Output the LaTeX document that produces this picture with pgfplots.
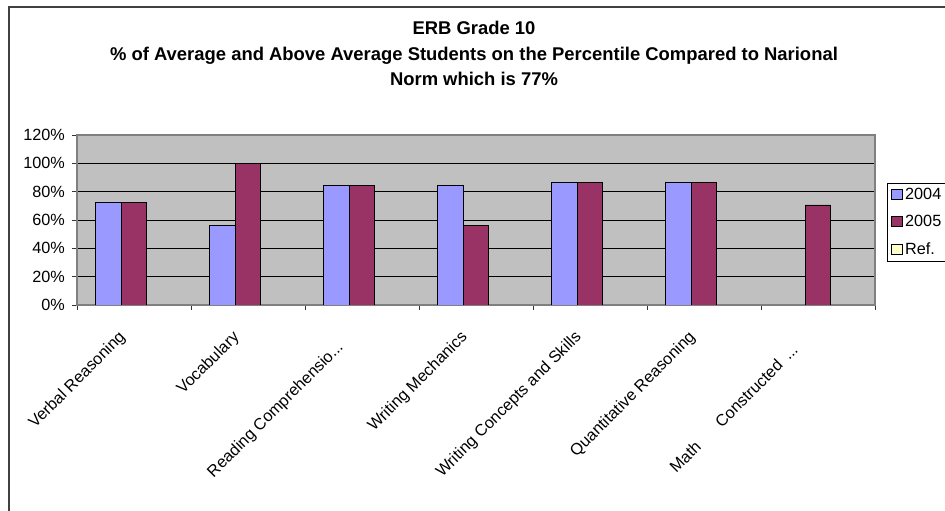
\documentclass[border=0pt]{standalone}
\usepackage{fontspec}
\setmainfont{Liberation Sans}
\usepackage{pgfplots}
\pgfplotsset{compat=1.18}
\definecolor{c2004}{HTML}{9999FF}
\definecolor{c2005}{HTML}{993366}
\definecolor{cref}{HTML}{FFFFCC}
\definecolor{plotbg}{HTML}{C0C0C0}
\definecolor{framegray}{HTML}{808080}
\newcommand{\dd}{{.}{.}{.}}
\begin{document}
\begin{tikzpicture}[x=1bp,y=1bp]
\useasboundingbox (-77,-206) rectangle (868,305);
\draw[line width=1.6bp, draw=black!75] (-68,-230) -- (-68,298) -- (900,298);
\begin{axis}[
  at={(0,0)}, anchor=south west,
  scale only axis, width=798bp, height=170bp,
  xmin=-0.5, xmax=6.5, ymin=0, ymax=120,
  ybar=0pt, bar width=25.6bp,
  axis background/.style={fill=plotbg},
  axis line style={draw=framegray, line width=1.2bp},
  ytick={0,20,...,120},
  yticklabels={0\%,20\%,40\%,60\%,80\%,100\%,120\%},
  ymajorgrids, major grid style={black, line width=0.9bp},
  xtick={0,...,6},
  xticklabels={Verbal Reasoning, Vocabulary, {Reading Comprehensio\dd\rule{14bp}{0pt}}, Writing Mechanics, Writing Concepts and Skills, Quantitative Reasoning, {Math\hspace{28bp}Constructed\hspace{8bp}\dd\rule{17bp}{0pt}}},
  minor xtick={-0.5,0.5,1.5,2.5,3.5,4.5,5.5,6.5},
  tick align=outside, tick pos=left,
  major tick length=5bp, minor tick length=5bp,
  major x tick style={draw=none},
  minor x tick style={draw=black!80, line width=0.8bp},
  major y tick style={draw=black!80, line width=0.8bp},
  yticklabel style={font=\fontsize{16.3}{19}\selectfont, inner sep=0pt, xshift=-7bp},
  xticklabel style={font=\fontsize{16.3}{19}\selectfont, inner sep=0pt, xshift=-11bp, yshift=-25bp, rotate=45, anchor=east},
  title={ERB Grade 10\\\% of Average and Above Average Students on the Percentile Compared to Narional\\Norm which is 77\%},
  title style={font=\bfseries\fontsize{18.5}{25.5}\selectfont, align=center, inner sep=0pt, at={(rel axis cs:0.4975,1)}, anchor=south, yshift=43bp},
  legend style={at={(rel axis cs:1.015,0.719)}, anchor=north west, draw=black, line width=0.8bp, fill=white, font=\fontsize{16.3}{19}\selectfont, inner xsep=4bp, inner ysep=3bp, row sep=10.5bp},
  legend cell align=left,
]
\addplot[fill=c2004, draw=black, line width=0.8bp, legend image code/.code={\draw[fill=c2004,draw=black,line width=0.8bp] (0bp,-5bp) rectangle (11bp,5bp);}]
  coordinates {(0,72.2) (1,56.2) (2,84.6) (3,84.6) (4,86.4) (5,86.4)};
\addplot[fill=c2005, draw=black, line width=0.8bp, legend image code/.code={\draw[fill=c2005,draw=black,line width=0.8bp] (0bp,-5bp) rectangle (11bp,5bp);}]
  coordinates {(0,72.2) (1,100) (2,84.6) (3,56.2) (4,86.4) (5,86.4) (6,70.6)};
\addplot[fill=none, draw=none, legend image code/.code={\draw[fill=cref,draw=black,line width=0.8bp] (0bp,-5bp) rectangle (11bp,5bp);}]
  coordinates {(0,0) (1,0) (2,0) (3,0) (4,0) (5,0) (6,0)};
\legend{2004,2005,Ref.}
\end{axis}
\end{tikzpicture}
\end{document}
